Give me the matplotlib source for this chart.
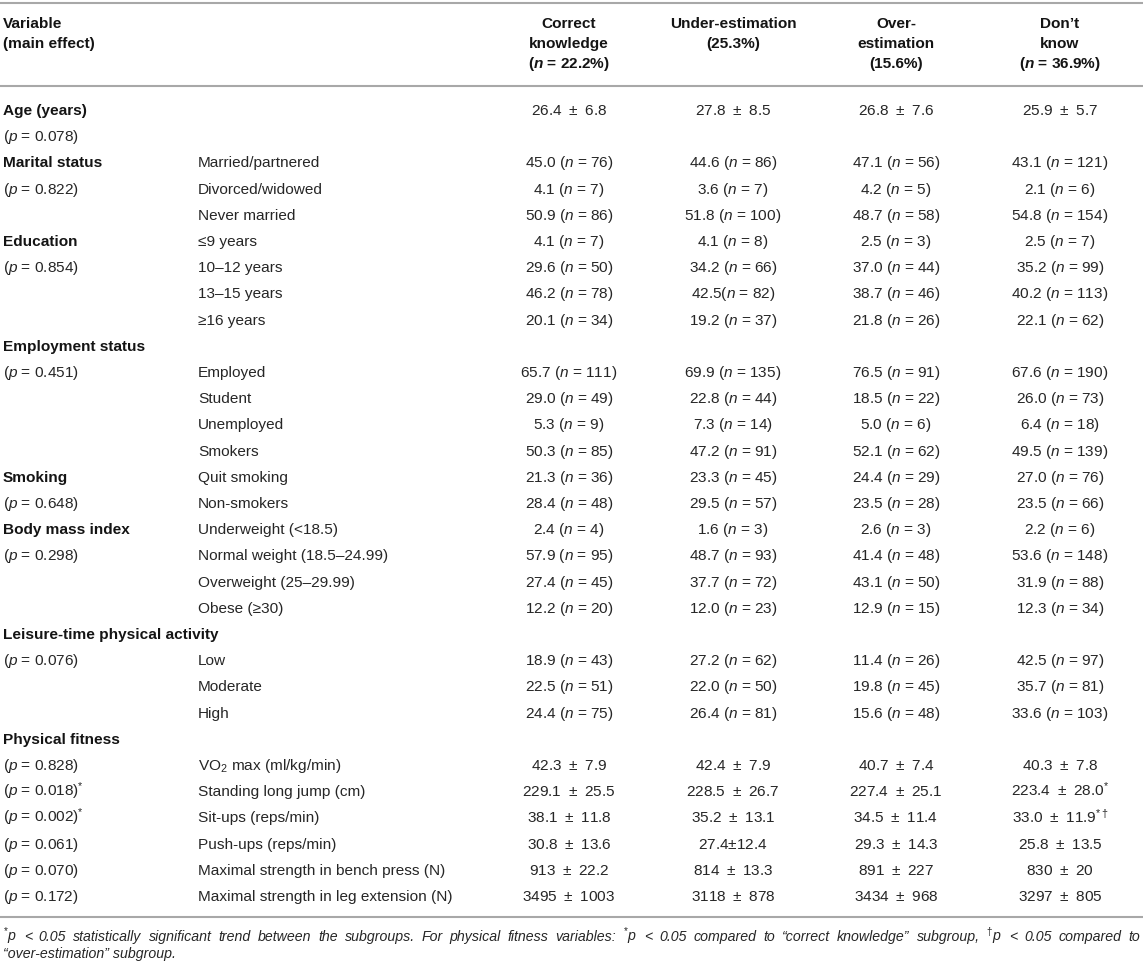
import matplotlib
matplotlib.use("Agg")
import matplotlib.pyplot as plt

plt.rcParams['font.family'] = ['Liberation Sans', 'DejaVu Sans']
plt.rcParams['mathtext.fontset'] = 'custom'
plt.rcParams['mathtext.rm'] = 'Liberation Sans'
plt.rcParams['mathtext.it'] = 'Liberation Sans:italic'
plt.rcParams['mathtext.bf'] = 'Liberation Sans:bold'
plt.rcParams['mathtext.bfit'] = 'Liberation Sans:italic:bold'

# ---------------- data ----------------
group_headers = [
    ["Correct", "knowledge", r"($\mathbfit{n}$ = 22.2%)"],
    ["Under-estimation", "(25.3%)"],
    ["Over-", "estimation", "(15.6%)"],
    ["Don\u2019t", "know", r"($\mathbfit{n}$ = 36.9%)"],
]

# left column: (row index, text, bold)
main_labels = [
    (0, "Age (years)", True), (1, r"($p$ = 0.078)", False),
    (2, "Marital status", True), (3, r"($p$ = 0.822)", False),
    (5, "Education", True), (6, r"($p$ = 0.854)", False),
    (9, "Employment status", True), (10, r"($p$ = 0.451)", False),
    (14, "Smoking", True), (15, r"($p$ = 0.648)", False),
    (16, "Body mass index", True), (17, r"($p$ = 0.298)", False),
    (20, "Leisure-time physical activity", True), (21, r"($p$ = 0.076)", False),
    (24, "Physical fitness", True), (25, r"($p$ = 0.828)", False),
    (26, r"($p$ = 0.018)$^{*}$", False), (27, r"($p$ = 0.002)$^{*}$", False),
    (28, r"($p$ = 0.061)", False), (29, r"($p$ = 0.070)", False),
    (30, r"($p$ = 0.172)", False),
]

age_mean = ["26.4", "27.8", "26.8", "25.9"]
age_sd = ["6.8", "8.5", "7.6", "5.7"]

cat_rows = [2, 3, 4, 5, 6, 7, 8, 10, 11, 12, 13, 14, 15, 16, 17, 18, 19, 21, 22, 23]
cat_names = ["Married/partnered", "Divorced/widowed", "Never married",
             "\u22649 years", "10\u201312 years", "13\u201315 years", "\u226516 years",
             "Employed", "Student", "Unemployed", "Smokers", "Quit smoking", "Non-smokers",
             "Underweight (<18.5)", "Normal weight (18.5\u201324.99)",
             "Overweight (25\u201329.99)", "Obese (\u226530)",
             "Low", "Moderate", "High"]
cat_pct = [
    ["45.0", "44.6", "47.1", "43.1"],
    ["4.1", "3.6", "4.2", "2.1"],
    ["50.9", "51.8", "48.7", "54.8"],
    ["4.1", "4.1", "2.5", "2.5"],
    ["29.6", "34.2", "37.0", "35.2"],
    ["46.2", "42.5", "38.7", "40.2"],
    ["20.1", "19.2", "21.8", "22.1"],
    ["65.7", "69.9", "76.5", "67.6"],
    ["29.0", "22.8", "18.5", "26.0"],
    ["5.3", "7.3", "5.0", "6.4"],
    ["50.3", "47.2", "52.1", "49.5"],
    ["21.3", "23.3", "24.4", "27.0"],
    ["28.4", "29.5", "23.5", "23.5"],
    ["2.4", "1.6", "2.6", "2.2"],
    ["57.9", "48.7", "41.4", "53.6"],
    ["27.4", "37.7", "43.1", "31.9"],
    ["12.2", "12.0", "12.9", "12.3"],
    ["18.9", "27.2", "11.4", "42.5"],
    ["22.5", "22.0", "19.8", "35.7"],
    ["24.4", "26.4", "15.6", "33.6"],
]
cat_n = [
    [76, 86, 56, 121], [7, 7, 5, 6], [86, 100, 58, 154],
    [7, 8, 3, 7], [50, 66, 44, 99], [78, 82, 46, 113], [34, 37, 26, 62],
    [111, 135, 91, 190], [49, 44, 22, 73], [9, 14, 6, 18],
    [85, 91, 62, 139], [36, 45, 29, 76], [48, 57, 28, 66],
    [4, 3, 3, 6], [95, 93, 48, 148], [45, 72, 50, 88], [20, 23, 15, 34],
    [43, 62, 26, 97], [51, 50, 45, 81], [75, 81, 48, 103],
]

fit_rows = [25, 26, 27, 28, 29, 30]
fit_names = [r"VO$_2$ max (ml/kg/min)", "Standing long jump (cm)", "Sit-ups (reps/min)",
             "Push-ups (reps/min)", "Maximal strength in bench press (N)",
             "Maximal strength in leg extension (N)"]
fit_mean = [
    ["42.3", "42.4", "40.7", "40.3"],
    ["229.1", "228.5", "227.4", "223.4"],
    ["38.1", "35.2", "34.5", "33.0"],
    ["30.8", "27.4", "29.3", "25.8"],
    ["913", "814", "891", "830"],
    ["3495", "3118", "3434", "3297"],
]
fit_sd = [
    ["7.9", "7.9", "7.4", "7.8"],
    ["25.5", "26.7", "25.1", "28.0"],
    ["11.8", "13.1", "11.4", "11.9"],
    ["13.6", "12.4", "14.3", "13.5"],
    ["22.2", "13.3", "227", "20"],
    ["1003", "878", "968", "805"],
]
# superscript marks (significance) per cell
fit_marks = {(1, 3): "*", (2, 3): r"*\dagger"}
# cells printed without spaces in the source
tight_cells = {("cat", 5, 1), ("fit", 3, 1)}

footnote_line1 = (r"$^{*}$p < 0.05 statistically significant trend between the subgroups. "
                  r"For physical fitness variables: $^{*}$p < 0.05 compared to "
                  "\u201ccorrect knowledge\u201d subgroup, "
                  r"$^{\dagger}$p < 0.05 compared to")
footnote_line2 = "\u201cover-estimation\u201d subgroup."

# ---------------- layout ----------------
W, H = 1143, 967
fig = plt.figure(figsize=(W / 100, H / 100), dpi=100)
ax = fig.add_axes([0, 0, 1, 1])
ax.set_xlim(0, W)
ax.set_ylim(H, 0)
ax.axis('off')

TXT = '#262626'
HEAD = '#141414'
LINE = '#a8a8a8'
FS = 11.1
x_main = 3
x_sub = 198
x_cols = [569, 733, 896, 1060]
row0 = 110
dy = 26.2
base_off = 5  # baseline below visual centre
PM = r"$\hspace{0.06}\pm\hspace{0.06}$"


def ry(i):
    return row0 + dy * i + base_off


def put(x, y, s, ha='left', bold=False, size=FS, style='normal', color=TXT):
    return ax.text(x, y, s, ha=ha, va='baseline', fontsize=size,
                   fontweight='bold' if bold else 'normal', fontstyle=style, color=color)


# rules
for yl in (3, 86, 917):
    ax.plot([0, W], [yl, yl], color=LINE, lw=1.5, solid_capstyle='butt')

# header
put(x_main, 23 + base_off, "Variable", bold=True, color=HEAD)
put(x_main, 43 + base_off, "(main effect)", bold=True, color=HEAD)
for xc, lines in zip(x_cols, group_headers):
    for k, s in enumerate(lines):
        put(xc, 23 + 20 * k + base_off, s, ha='center', bold=True, color=HEAD)

# left labels
for r, s, b in main_labels:
    put(x_main, ry(r), s, bold=b, color=HEAD if b else TXT)

# age row
for j in range(4):
    put(x_cols[j], ry(0), f"{age_mean[j]} {PM} {age_sd[j]}", ha='center')

# categorical rows
for k, r in enumerate(cat_rows):
    put(x_sub, ry(r), cat_names[k])
    for j in range(4):
        if ("cat", k, j) in tight_cells:
            s = f"{cat_pct[k][j]}($n$ = {cat_n[k][j]})"
        else:
            s = f"{cat_pct[k][j]} ($n$ = {cat_n[k][j]})"
        put(x_cols[j], ry(r), s, ha='center')

# fitness rows
for k, r in enumerate(fit_rows):
    put(x_sub, ry(r), fit_names[k])
    for j in range(4):
        if ("fit", k, j) in tight_cells:
            s = f"{fit_mean[k][j]}$\\pm${fit_sd[k][j]}"
        else:
            s = f"{fit_mean[k][j]} {PM} {fit_sd[k][j]}"
        m = fit_marks.get((k, j))
        if m:
            s += f"$^{{{m}}}$"
        put(x_cols[j], ry(r), s, ha='center')

# footnote (justified first line)
FN = 10.2
fig.canvas.draw()
renderer = fig.canvas.get_renderer()
words = footnote_line1.split(" ")
arts = [put(0, 941, w, size=FN, style='italic') for w in words]
widths = []
for a in arts:
    bb = a.get_window_extent(renderer=renderer)
    widths.append(bb.width)
left, right = 3, 1140
gap = (right - left - sum(widths)) / (len(words) - 1)
xcur = left
for a, w in zip(arts, widths):
    a.set_x(xcur)
    xcur += w + gap
put(left, 958, footnote_line2, size=FN, style='italic')

fig.savefig("out.png", dpi=100)
